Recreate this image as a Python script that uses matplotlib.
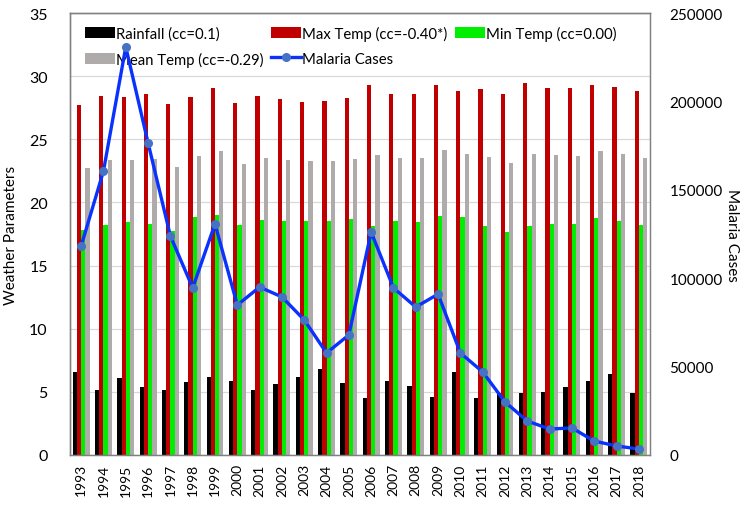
import numpy as np
import matplotlib.pyplot as plt

plt.rcParams['font.family'] = ['Lato', 'DejaVu Sans']

# data
years = list(range(1993, 2019))

rainfall = [6.55, 5.12, 6.12, 5.36, 5.15, 5.8, 6.2, 5.86, 5.15, 5.6, 6.15, 6.78, 5.73,
            4.51, 5.88, 5.49, 4.59, 6.6, 4.49, 4.88, 4.88, 4.99, 5.38, 5.88, 6.39, 4.93]
max_temp = [27.7, 28.4, 28.35, 28.55, 27.8, 28.35, 29.1, 27.9, 28.4, 28.2, 27.97, 28.05, 28.3,
            29.3, 28.55, 28.6, 29.3, 28.85, 28.98, 28.58, 29.43, 29.1, 29.1, 29.3, 29.14, 28.8]
min_temp = [17.84, 18.23, 18.42, 18.31, 17.74, 18.87, 19.0, 18.2, 18.6, 18.5, 18.55, 18.55, 18.7,
            18.15, 18.5, 18.45, 18.9, 18.82, 18.13, 17.66, 18.13, 18.31, 18.31, 18.76, 18.5, 18.23]
mean_temp = [22.75, 23.33, 23.38, 23.46, 22.8, 23.65, 24.1, 23.07, 23.5, 23.33, 23.25, 23.28, 23.46,
             23.73, 23.54, 23.54, 24.15, 23.83, 23.6, 23.12, 23.8, 23.73, 23.67, 24.05, 23.8, 23.5]
malaria = [118200, 160600, 230800, 176500, 123900, 94500, 130700, 84800, 95000, 89400, 76400,
           57700, 67900, 126100, 94500, 83700, 91000, 57700, 47000, 30000, 19200, 14700, 15300,
           7900, 5100, 3400]

labels = ['Rainfall (cc=0.1)', 'Max Temp (cc=-0.40*)', 'Min Temp (cc=0.00)',
          'Mean Temp (cc=-0.29)', 'Malaria Cases']
colors = ['#000000', '#c00000', '#00ee00', '#b0abab']

fig = plt.figure(figsize=(7.51, 5.06), dpi=100)
ax = fig.add_axes([70 / 751, 50 / 506, 580 / 751, 442 / 506])
ax2 = ax.twinx()

x = np.arange(len(years))
w = 0.19
bars = []
for i, (vals, c, lab) in enumerate(zip([rainfall, max_temp, min_temp, mean_temp], colors, labels)):
    b = ax.bar(x + (i - 1.5) * w, vals, width=w, color=c, label=lab, zorder=2)
    bars.append(b)

line, = ax2.plot(x, malaria, color='#0a32ff', lw=2.4, marker='o', markersize=5.5,
                 markerfacecolor='#4472c4', markeredgecolor='#4472c4', label=labels[4], zorder=3)

ax.set_xlim(-0.5, len(years) - 0.5)
ax.set_ylim(0, 35)
ax.set_yticks(range(0, 36, 5))
ax2.set_ylim(0, 250000)
ax2.set_yticks(range(0, 250001, 50000))

ax.set_xticks(x)
ax.set_xticklabels([str(y) for y in years], rotation=90, fontsize=10)
ax.tick_params(axis='x', length=0, pad=6)
ax.tick_params(axis='y', length=0, pad=16, labelsize=11.5)
ax2.tick_params(axis='y', length=0, pad=14, labelsize=11)

ax.grid(axis='y', color='#d9d9d9', lw=0.9, zorder=0)
ax.set_axisbelow(True)
ax.set_ylabel('Weather Parameters', fontsize=11, labelpad=8)
ax2.set_ylabel('Malaria Cases', fontsize=11, rotation=270, labelpad=12)

for a in (ax, ax2):
    for s in a.spines.values():
        s.set_color('#808080')
        s.set_linewidth(0.9)
ax.spines['left'].set_color('#202020')
ax.spines['top'].set_color('#202020')

handles = [bars[0], bars[3], bars[1], line, bars[2]]
hl = [labels[0], labels[3], labels[1], labels[4], labels[2]]
ax.legend(handles, hl, ncol=3, loc='upper left', bbox_to_anchor=(0.008, 0.995), frameon=False,
          fontsize=10.7, handlelength=2.0, handleheight=0.8, handletextpad=0.1,
          columnspacing=0.5, labelspacing=0.75, borderaxespad=0.3)

fig.savefig('out.png', dpi=100)
